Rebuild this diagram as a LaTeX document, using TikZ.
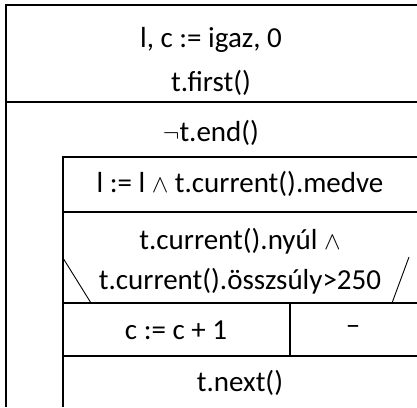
\documentclass[tikz,border=0pt]{standalone}
\usepackage{fontspec}
\setmainfont{Carlito}
\begin{document}
\begin{tikzpicture}[x=1pt,y=-1pt,line width=1.7pt,
  txt/.style={font=\fontsize{29}{34}\selectfont, inner sep=0pt},
  thinline/.style={line width=0.9pt}]
\useasboundingbox (0,0) rectangle (417,407);
% frame lines
\coordinate (otl) at (6,5);
\coordinate (otr) at (417,5);
\coordinate (obl) at (6,407);
\draw (otr) -- (otl) -- (obl);
\coordinate (l1a) at (6,102);  \coordinate (l1b) at (417,102);
\draw (l1a) -- (l1b);
\coordinate (itl) at (63,157); \coordinate (itr) at (417,157); \coordinate (ibl) at (63,407);
\draw (itr) -- (itl) -- (ibl);
\coordinate (l2a) at (63,212); \coordinate (l2b) at (417,212);
\draw (l2a) -- (l2b);
\coordinate (l3a) at (63,303); \coordinate (l3b) at (417,303);
\draw (l3a) -- (l3b);
\coordinate (l4a) at (63,356); \coordinate (l4b) at (417,356);
\draw (l4a) -- (l4b);
\coordinate (dva) at (290,303); \coordinate (dvb) at (290,356);
\draw (dva) -- (dvb);
\coordinate (dla) at (63,258); \coordinate (dlb) at (91,303);
\draw[thinline] (dla) -- (dlb);
\coordinate (dra) at (409,257); \coordinate (drb) at (392,303);
\draw[thinline] (dra) -- (drb);
% texts
\node[txt] (init) at (211,40) {l, c := igaz, 0};
\node[txt] (first) at (211,83) {t.first()};
\node[txt] (cond) at (211,133) {$\neg$t.end()};
\node[txt] (medve) at (240,184) {l := l $\wedge$ t.current().medve};
\node[txt] (nyul) at (240,241) {t.current().nyúl $\wedge$};
\node[txt] (ossz) at (240,281) {t.current().összsúly>250};
\node[txt] (inc) at (176,330) {c := c + 1};
\node[txt] (skip) at (353,330) {–};
\node[txt] (next) at (240,383) {t.next()};
\end{tikzpicture}
\end{document}
